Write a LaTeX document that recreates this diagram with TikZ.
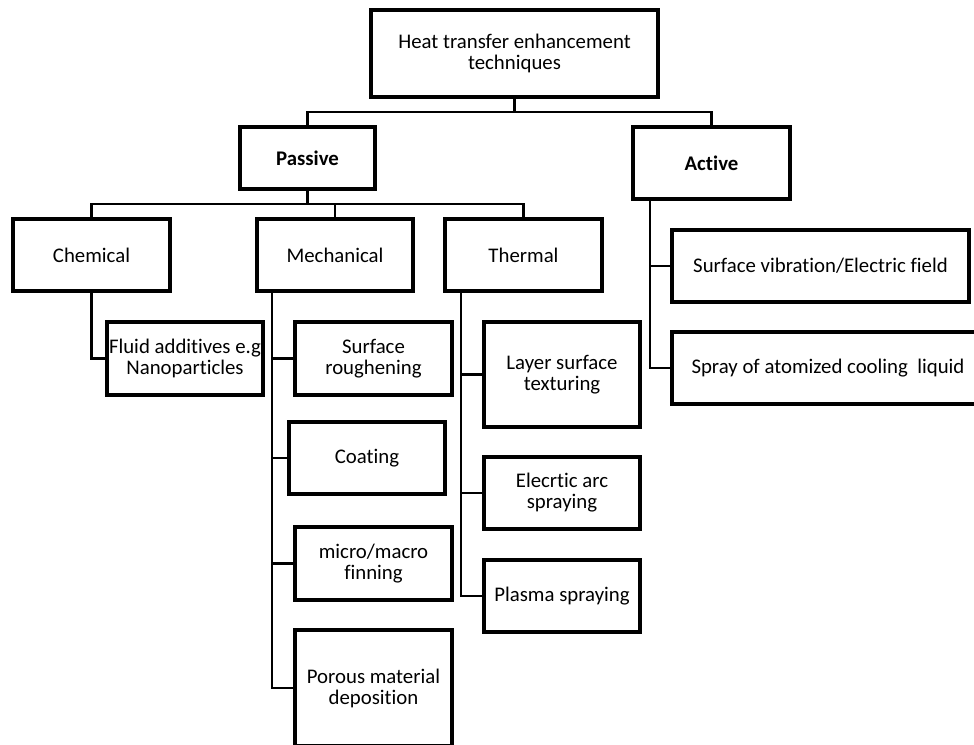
\documentclass[tikz,border=0pt]{standalone}
\usepackage{fontspec}
\setmainfont[Ligatures={NoCommon}]{Carlito}
\begin{document}
\begin{tikzpicture}[x=1pt,y=-1pt,
  box/.style={draw=black,line width=3.5pt,rectangle,inner sep=0pt,align=center,
    font=\fontsize{20.8}{21}\selectfont},
  conn/.style={draw=black,line width=2.5pt}]
\useasboundingbox (0,0) rectangle (974,744);
\fill[white] (0,0) rectangle (974,744);
% nodes
\node[box,minimum width=287pt,minimum height=87pt] (top) at (514.5,53.5) {Heat transfer enhancement\\techniques};
\node[box,minimum width=135pt,minimum height=62pt,font=\fontsize{20.8}{21}\selectfont\bfseries] (passive) at (307.5,158) {Passive};
\node[box,minimum width=157pt,minimum height=72pt,font=\fontsize{20.8}{21}\selectfont\bfseries] (active) at (711.5,163) {Active};
\node[box,minimum width=157pt,minimum height=72pt] (chem) at (91.5,255) {Chemical};
\node[box,minimum width=156pt,minimum height=72pt] (mech) at (335,255) {Mechanical};
\node[box,minimum width=157pt,minimum height=72pt] (therm) at (523.5,255) {Thermal};
\node[box,minimum width=156pt,minimum height=73pt] (fluid) at (185,358.5) {Fluid additives e.g\\Nanoparticles};
\node[box,minimum width=157pt,minimum height=73pt] (rough) at (373.5,358.5) {Surface\\roughening};
\node[box,minimum width=156pt,minimum height=72pt] (coat) at (367,458) {Coating};
\node[box,minimum width=157pt,minimum height=73pt] (fin) at (373.5,563.5) {micro/macro\\finning};
\node[box,minimum width=157pt,minimum height=116pt] (porous) at (373.5,688) {Porous material\\deposition};
\node[box,minimum width=156pt,minimum height=105pt] (layer) at (562,374.5) {Layer surface\\texturing};
\node[box,minimum width=156pt,minimum height=72pt] (arc) at (562,493) {Elecrtic arc\\spraying};
\node[box,minimum width=156pt,minimum height=72pt] (plasma) at (562,596) {Plasma spraying};
\node[box,minimum width=297pt,minimum height=72pt] (vib) at (820.5,266) {Surface vibration/Electric field};
\node[box,minimum width=312pt,minimum height=72pt] (spray) at (828,368) {Spray of atomized cooling\ \ liquid};
% bus coordinates
\coordinate (busA) at (0,112);
\coordinate (busB) at (0,204);
\coordinate (mx) at (272,0);
\coordinate (tx) at (461,0);
\coordinate (ax) at (650,0);
% top level
\draw[conn] (top.south) -- (top.south |- busA);
\draw[conn] (passive.north) -- (passive.north |- busA) -- (active.north |- busA) -- (active.north);
% passive level
\draw[conn] (passive.south) -- (passive.south |- busB);
\draw[conn] (chem.north) -- (chem.north |- busB) -- (therm.north |- busB) -- (therm.north);
\draw[conn] (mech.north) -- (mech.north |- busB);
% chemical
\draw[conn] (chem.south) |- (fluid.west);
% mechanical
\draw[conn] (mech.south -| mx) -- (porous.west -| mx) -- (porous.west);
\draw[conn] (rough.west -| mx) -- (rough.west);
\draw[conn] (coat.west -| mx) -- (coat.west);
\draw[conn] (fin.west -| mx) -- (fin.west);
% thermal
\draw[conn] (therm.south -| tx) -- (plasma.west -| tx) -- (plasma.west);
\draw[conn] (layer.west -| tx) -- (layer.west);
\draw[conn] (arc.west -| tx) -- (arc.west);
% active
\draw[conn] (active.south -| ax) -- (spray.west -| ax) -- (spray.west);
\draw[conn] (vib.west -| ax) -- (vib.west);
\end{tikzpicture}
\end{document}
